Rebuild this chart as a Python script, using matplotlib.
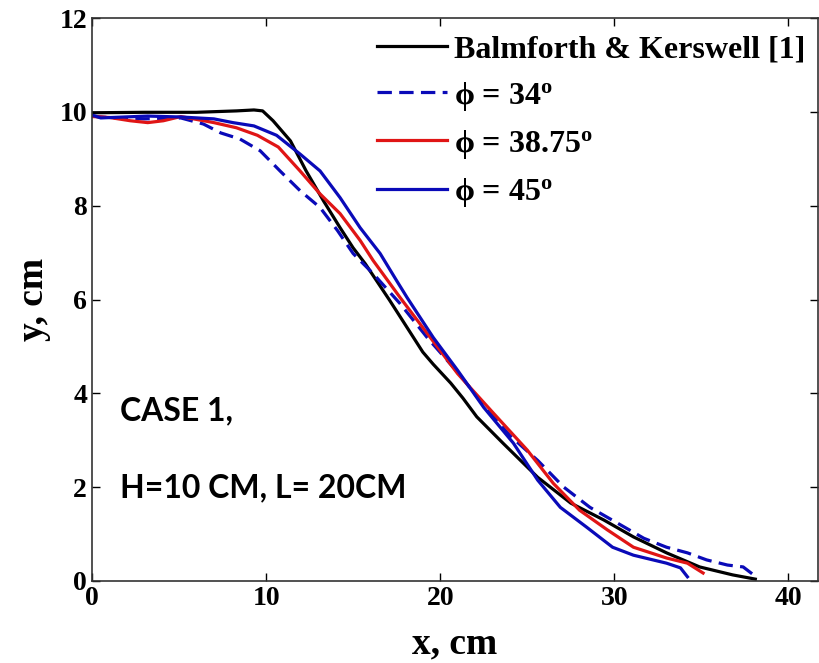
import matplotlib
matplotlib.use("Agg")
import matplotlib.pyplot as plt

# Balmforth & Kerswell [1]
bk_x = [0, 3, 6, 8.3, 9.3, 9.8, 10.4, 11.4, 12.3, 13.3, 14.25, 15.0, 15.7, 17.1, 19.0, 19.6, 20.6, 21.3, 22.1, 23.6, 25.6, 27.5, 29.4, 31.1, 33.0, 34.9, 36.8, 38.1]
bk_y = [9.98, 9.99, 9.99, 10.02, 10.04, 10.02, 9.81, 9.38, 8.74, 8.1, 7.53, 7.1, 6.76, 5.98, 4.88, 4.62, 4.22, 3.9, 3.5, 2.94, 2.21, 1.66, 1.3, 0.94, 0.6, 0.3, 0.13, 0.04]

# phi = 34 deg (dashed)
p34_x = [0, 1.2, 3.0, 5.1, 6.4, 7.4, 8.5, 9.66, 10.8, 11.95, 13.1, 14.1, 15.0, 16.15, 17.7, 19.25, 21.0, 22.5, 24.0, 25.6, 27.1, 28.6, 30.2, 31.7, 33.0, 34.2, 35.3, 36.5, 37.4, 38.0]
p34_y = [9.91, 9.87, 9.85, 9.87, 9.74, 9.55, 9.42, 9.17, 8.74, 8.32, 7.96, 7.47, 6.98, 6.55, 5.91, 5.19, 4.45, 3.75, 3.1, 2.57, 2.0, 1.57, 1.23, 0.91, 0.72, 0.6, 0.45, 0.34, 0.3, 0.13]

# phi = 38.75 deg
p38_x = [0, 1.0, 2.2, 3.2, 4.1, 5.1, 7.0, 8.3, 9.5, 10.7, 11.95, 13.1, 14.25, 15.4, 16.15, 16.7, 17.7, 19.25, 21.0, 23.0, 25.0, 26.5, 28.0, 29.6, 31.1, 33.0, 34.2, 35.1]
p38_y = [9.9, 9.88, 9.81, 9.77, 9.81, 9.9, 9.77, 9.66, 9.5, 9.25, 8.74, 8.25, 7.83, 7.26, 6.83, 6.55, 6.04, 5.28, 4.42, 3.6, 2.79, 2.08, 1.51, 1.09, 0.72, 0.49, 0.38, 0.17]

# phi = 45 deg
p45_x = [0, 0.5, 3.2, 5.1, 7.0, 8.1, 9.3, 10.6, 11.95, 13.1, 14.25, 15.4, 16.55, 17.5, 18.1, 19.6, 21.0, 22.5, 24.2, 25.6, 26.9, 28.4, 29.9, 31.1, 33.0, 33.8, 34.2]
p45_y = [9.93, 9.87, 9.91, 9.89, 9.85, 9.77, 9.7, 9.5, 9.1, 8.74, 8.17, 7.53, 6.98, 6.4, 6.04, 5.19, 4.49, 3.7, 2.94, 2.15, 1.57, 1.15, 0.72, 0.55, 0.38, 0.28, 0.09]

labels = ["Balmforth & Kerswell [1]", r"$\mathbf{\phi}$ = 34$^\mathbf{o}$",
          r"$\mathbf{\phi}$ = 38.75$^\mathbf{o}$", r"$\mathbf{\phi}$ = 45$^\mathbf{o}$"]

annot_lines = ["CASE 1,", "H=10 CM, L= 20CM"]
annot_pos = [(1.6, 3.62), (1.6, 1.98)]

plt.rcParams['mathtext.fontset'] = 'custom'
plt.rcParams['mathtext.rm'] = 'Liberation Serif:bold'
plt.rcParams['mathtext.bf'] = 'Liberation Serif:bold'
plt.rcParams['mathtext.it'] = 'Liberation Serif:bold'

fig = plt.figure(figsize=(8.19, 6.63), dpi=100)
ax = fig.add_axes([92/819, (663-581)/663, (818-92)/819, (581-18)/663])

blue = '#0a0ab8'
ax.plot(bk_x, bk_y, color='black', lw=2.3, label=labels[0])
ax.plot(p34_x, p34_y, color=blue, lw=2.3, ls=(0, (4.5, 2.3)), label=labels[1])
ax.plot(p38_x, p38_y, color='#e01515', lw=2.3, label=labels[2])
ax.plot(p45_x, p45_y, color=blue, lw=2.3, label=labels[3])

ax.set_xlim(0, 41.7)
ax.set_ylim(0, 12)
ax.set_xticks([0, 10, 20, 30, 40])
ax.set_yticks([0, 2, 4, 6, 8, 10, 12])
ax.tick_params(direction='in', top=True, right=True, length=6, width=1, labelsize=20)
for lbl in ax.get_xticklabels() + ax.get_yticklabels():
    lbl.set_fontfamily('Liberation Serif')
    lbl.set_fontweight('bold')
for s in ax.spines.values():
    s.set_linewidth(1.2)
    s.set_color('#333333')

ax.set_xlabel('x, cm', fontfamily='Liberation Serif', fontweight='bold', fontsize=27, labelpad=11)
ax.set_ylabel('y, cm', fontfamily='Liberation Serif', fontweight='bold', fontsize=27, labelpad=6)

leg = ax.legend(loc='upper right', bbox_to_anchor=(1.0, 0.992), frameon=False,
                prop={'family': 'Liberation Serif', 'weight': 'bold', 'size': 23},
                handlelength=2.2, handletextpad=0.22, labelspacing=0.47, borderaxespad=0.0)

for txt, (tx, ty) in zip(annot_lines, annot_pos):
    ax.text(tx, ty, txt, fontfamily='Lato', fontweight='bold', fontsize=23, va='center')

fig.savefig('out.png', dpi=100)
